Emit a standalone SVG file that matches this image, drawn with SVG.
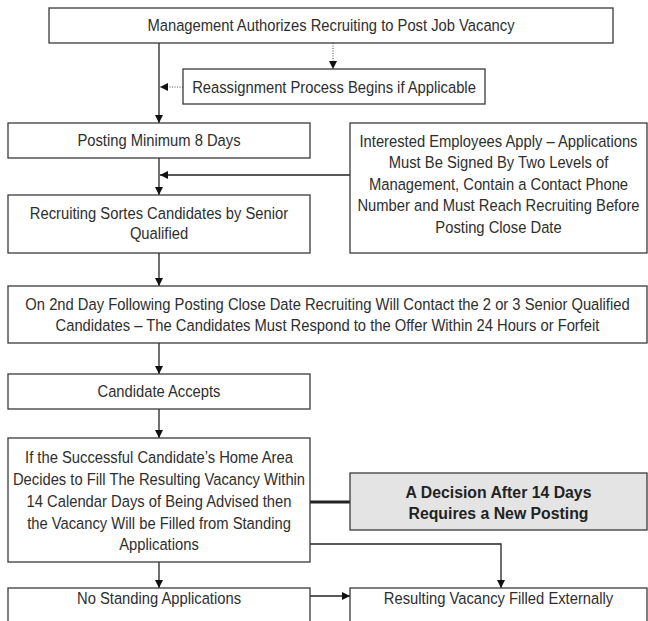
<svg xmlns="http://www.w3.org/2000/svg" width="648" height="621" viewBox="0 0 648 621">
<style>
.box{fill:#fff;stroke:#3a3a3a;stroke-width:1.3}
.gbox{fill:#e4e4e4;stroke:#3a3a3a;stroke-width:1.3}
.t{font-family:"Liberation Sans",Arial,sans-serif;font-size:16.5px;fill:#2e2e2e;text-anchor:middle}
.b{font-family:"Liberation Sans",Arial,sans-serif;font-size:17px;font-weight:bold;fill:#222;text-anchor:middle}
.ln{fill:none;stroke:#222;stroke-width:1.3}
.dot{fill:none;stroke:#555;stroke-width:1.1;stroke-dasharray:1 1.5}
.thick{fill:none;stroke:#222;stroke-width:3}
</style>
<defs>
<marker id="ah" viewBox="0 0 10 10" refX="10" refY="5" markerWidth="9" markerHeight="8" markerUnits="userSpaceOnUse" orient="auto">
<path d="M0,0 L10,5 L0,10 z" fill="#111"/>
</marker>
</defs>
<g id="connectors">
<path class="ln" d="M159,43 V123" marker-end="url(#ah)"/>
<path class="dot" d="M333,43 V69" marker-end="url(#ah)"/>
<path class="dot" d="M183,87 H160" marker-end="url(#ah)"/>
<path class="ln" d="M159,158 V195" marker-end="url(#ah)"/>
<path class="ln" d="M350,175 H160" marker-end="url(#ah)"/>
<path class="ln" d="M159,253 V286" marker-end="url(#ah)"/>
<path class="ln" d="M159,343 V374" marker-end="url(#ah)"/>
<path class="ln" d="M159,409 V438" marker-end="url(#ah)"/>
<path class="thick" d="M310,502 H350"/>
<path class="ln" d="M310,544 H501 V588" marker-end="url(#ah)"/>
<path class="ln" d="M159,562 V588" marker-end="url(#ah)"/>
<path class="ln" d="M310,596 H350" marker-end="url(#ah)"/>
</g>
<g id="n1">
<rect class="box" x="49" y="8" width="564" height="35"/>
<text class="t" transform="translate(331 31) scale(0.895 1)">Management Authorizes Recruiting to Post Job Vacancy</text>
</g>
<g id="n2">
<rect class="box" x="183" y="69" width="302" height="35"/>
<text class="t" transform="translate(334 93) scale(0.895 1)">Reassignment Process Begins if Applicable</text>
</g>
<g id="n3">
<rect class="box" x="8" y="123" width="302" height="35"/>
<text class="t" transform="translate(159 146) scale(0.895 1)">Posting Minimum 8 Days</text>
</g>
<g id="n4">
<rect class="box" x="350" y="123" width="297" height="130"/>
<text class="t" transform="translate(498.5 146.5) scale(0.895 1)">Interested Employees Apply – Applications</text>
<text class="t" transform="translate(498.5 168) scale(0.895 1)">Must Be Signed By Two Levels of</text>
<text class="t" transform="translate(498.5 189.5) scale(0.895 1)">Management, Contain a Contact Phone</text>
<text class="t" transform="translate(498.5 211) scale(0.895 1)">Number and Must Reach Recruiting Before</text>
<text class="t" transform="translate(498.5 232.5) scale(0.895 1)">Posting Close Date</text>
</g>
<g id="n5">
<rect class="box" x="8" y="195" width="302" height="58"/>
<text class="t" transform="translate(159 218.5) scale(0.895 1)">Recruiting Sortes Candidates by Senior</text>
<text class="t" transform="translate(159 239) scale(0.895 1)">Qualified</text>
</g>
<g id="n6">
<rect class="box" x="8" y="286" width="639" height="57"/>
<text class="t" transform="translate(327.5 309.5) scale(0.895 1)">On 2nd Day Following Posting Close Date Recruiting Will Contact the 2 or 3 Senior Qualified</text>
<text class="t" transform="translate(327.5 330.5) scale(0.895 1)">Candidates – The Candidates Must Respond to the Offer Within 24 Hours or Forfeit</text>
</g>
<g id="n7">
<rect class="box" x="8" y="374" width="302" height="35"/>
<text class="t" transform="translate(159 397) scale(0.895 1)">Candidate Accepts</text>
</g>
<g id="n8">
<rect class="box" x="8" y="438" width="302" height="124"/>
<text class="t" transform="translate(159 462.5) scale(0.895 1)">If the Successful Candidate’s Home Area</text>
<text class="t" transform="translate(159 484.5) scale(0.895 1)">Decides to Fill The Resulting Vacancy Within</text>
<text class="t" transform="translate(159 506.5) scale(0.895 1)">14 Calendar Days of Being Advised then</text>
<text class="t" transform="translate(159 528.5) scale(0.895 1)">the Vacancy Will be Filled from Standing</text>
<text class="t" transform="translate(159 549.5) scale(0.895 1)">Applications</text>
</g>
<g id="n9">
<rect class="gbox" x="350" y="473" width="297" height="57"/>
<text class="b" transform="translate(498.5 498) scale(0.93 1)">A Decision After 14 Days</text>
<text class="b" transform="translate(498.5 518.5) scale(0.93 1)">Requires a New Posting</text>
</g>
<g id="n10">
<rect class="box" x="8" y="588" width="302" height="45"/>
<text class="t" transform="translate(159 604) scale(0.895 1)">No Standing Applications</text>
</g>
<g id="n11">
<rect class="box" x="350" y="588" width="297" height="45"/>
<text class="t" transform="translate(498.5 604) scale(0.895 1)">Resulting Vacancy Filled Externally</text>
</g>
</svg>
